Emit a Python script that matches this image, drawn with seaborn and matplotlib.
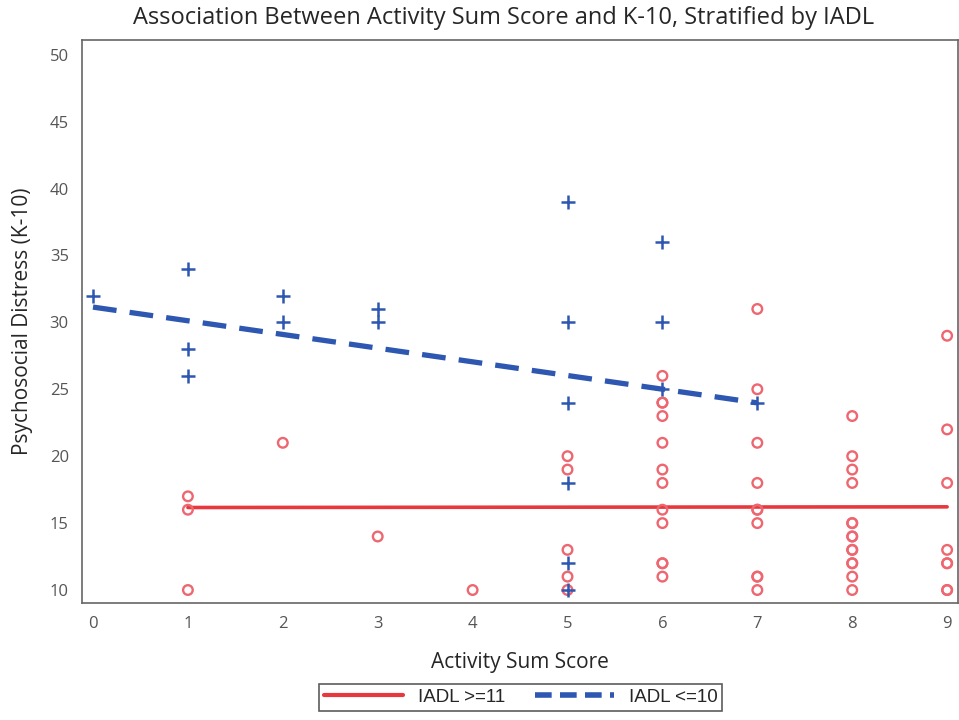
import numpy as np
import pandas as pd
import matplotlib
matplotlib.use("Agg")
import matplotlib.pyplot as plt
import seaborn as sns
from matplotlib.lines import Line2D

# IADL <= 10 (blue plus markers)
low_x = [0, 1, 1, 1, 2, 2, 3, 3, 5, 5, 5, 5, 5, 5, 6, 6, 6, 7]
low_y = [32, 34, 28, 26, 32, 30, 31, 30, 39, 30, 24, 18, 12, 10, 36, 30, 25, 24]

# IADL >= 11 (red open circles), repeated values are overlapping points
high_x = ([1] * 3 + [2] + [3] + [4] + [5] * 5 + [6] * 12 + [7] * 10
          + [8] * 14 + [9] * 8)
high_y = ([17, 16, 10] + [21] + [14] + [10] + [20, 19, 13, 11, 10]
          + [26, 24, 24, 23, 21, 19, 18, 16, 15, 12, 12, 11]
          + [31, 25, 21, 18, 16, 16, 15, 11, 11, 10]
          + [23, 20, 19, 18, 15, 15, 14, 14, 13, 13, 12, 12, 11, 10]
          + [29, 22, 18, 13, 12, 12, 10, 10])

groups = ["IADL >=11", "IADL <=10"]
red = "#E8383D"
red_pt = "#EE6670"
blue = "#2D57B0"

df_low = pd.DataFrame({"x": low_x, "y": low_y})
df_high = pd.DataFrame({"x": high_x, "y": high_y})

sns.set_style("white")
plt.rcParams["font.family"] = ["Open Sans", "DejaVu Sans"]

fig = plt.figure(figsize=(9.59, 7.2), dpi=100)
ax = fig.add_axes([0.0855, 0.1625, 0.913, 0.782])

sns.scatterplot(data=df_high, x="x", y="y", ax=ax, marker="o", s=48,
                facecolors="none", edgecolor=red_pt, linewidth=1.7, zorder=3)
sns.scatterplot(data=df_low, x="x", y="y", ax=ax, marker="+", s=90,
                color=blue, linewidth=1.8, zorder=4)

sns.regplot(data=df_high, x="x", y="y", ax=ax, scatter=False, ci=None,
            line_kws={"color": red, "lw": 2.6, "zorder": 2})
sns.regplot(data=df_low, x="x", y="y", ax=ax, scatter=False, ci=None,
            line_kws={"color": blue, "lw": 3.8, "dashes": (4.5, 2.5), "zorder": 2})

ax.set_xlim(-0.116, 9.11)
ax.set_ylim(9.03, 51.1)
ax.set_xticks(range(0, 10))
ax.set_yticks(range(10, 51, 5))
for s in ax.spines.values():
    s.set_color("#666666")
    s.set_linewidth(1.2)
ax.tick_params(axis="both", direction="out", length=6, width=1.2,
               color="#666666", labelcolor="#555555", labelsize=12)
ax.set_xlabel("Activity Sum Score", fontsize=15, labelpad=14)
ax.set_ylabel("Psychosocial Distress (K-10)", fontsize=15, labelpad=12)
fig.suptitle("Association Between Activity Sum Score and K-10, Stratified by IADL",
             fontsize=17, x=0.525, y=0.992)

handles = [Line2D([], [], color=red, lw=3),
           Line2D([], [], color=blue, lw=4, dashes=(3, 1.5))]
leg = fig.legend(handles, groups, loc="lower center", ncol=2,
                 bbox_to_anchor=(0.543, 0.0), frameon=True, fancybox=False,
                 edgecolor="#333333", fontsize=13.5, handlelength=4.2,
                 columnspacing=1.6, borderpad=0.25)
leg.get_frame().set_linewidth(1.2)
for t in leg.get_texts():
    t.set_family(["Liberation Sans", "DejaVu Sans"])

fig.savefig("out.png", dpi=100)
